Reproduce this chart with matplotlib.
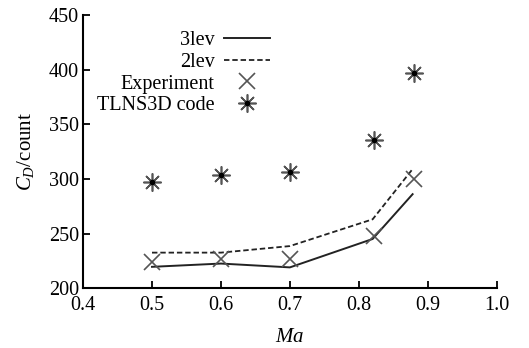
import matplotlib
matplotlib.use("Agg")
import matplotlib.pyplot as plt
from matplotlib.legend_handler import HandlerTuple

plt.rcParams['font.family'] = ['Liberation Serif', 'DejaVu Serif']
plt.rcParams['mathtext.fontset'] = 'custom'
plt.rcParams['mathtext.rm'] = 'Liberation Serif'
plt.rcParams['mathtext.it'] = 'Liberation Serif:italic'

ma_lines = [0.50, 0.60, 0.70, 0.82, 0.878]
lev3 = [219.5, 222.5, 219, 245, 286]
lev2 = [232.5, 232.5, 238.5, 263, 309]
ma_pts = [0.50, 0.60, 0.70, 0.822, 0.88]
experiment = [224, 227, 227, 247.5, 299.5]
tlns3d = [297, 304, 306, 336, 397]

fig = plt.figure(figsize=(5.29, 3.48), dpi=100)
ax = fig.add_axes([0.157, 0.172, 0.782, 0.785])

l3, = ax.plot(ma_lines, lev3, color='#222222', lw=1.4, label='3lev')
l2, = ax.plot(ma_lines, lev2, color='#222222', lw=1.3, ls=(0, (3, 1.6)), label='2lev')
ex, = ax.plot(ma_pts, experiment, ls='none', marker='x', ms=11, mew=1.2,
              color='#555555', label='Experiment')
ts, = ax.plot(ma_pts, tlns3d, ls='none', marker=(8, 2, 0), ms=13, mew=1.2,
              color='#555555')
td, = ax.plot(ma_pts, tlns3d, ls='none', marker='o', ms=3, color='black')

ax.set_xlim(0.4, 1.0)
ax.set_ylim(200, 450)
ax.set_xticks([0.4, 0.5, 0.6, 0.7, 0.8, 0.9, 1.0])
ax.set_xticklabels(['0.4', '0.5', '0.6', '0.7', '0.8', '0.9', '1.0'])
ax.set_yticks([200, 250, 300, 350, 400, 450])
for s in ['top', 'right']:
    ax.spines[s].set_visible(False)
for s in ['left', 'bottom']:
    ax.spines[s].set_linewidth(1.5)
ax.tick_params(direction='in', length=5, width=1.3, labelsize=14.5)
ax.tick_params(axis='y', pad=3)
ax.tick_params(axis='x', pad=6)

ax.set_xlabel('$Ma$', fontsize=15, labelpad=9)
ax.set_ylabel('$C_D$/count', fontsize=15, labelpad=9)

leg = ax.legend([l3, l2, ex, (ts, td)], ['3lev', '2lev', 'Experiment', 'TLNS3D code'],
                handler_map={tuple: HandlerTuple(ndivide=1)},
                loc='upper right', bbox_to_anchor=(270 / 529, 1 - 31 / 348),
                bbox_transform=fig.transFigure, frameon=False, markerfirst=False,
                fontsize=14.5, handlelength=2.3, handletextpad=0.45, labelspacing=0.13,
                borderpad=0, borderaxespad=0)
for t in leg.get_texts():
    t.set_ha('right')

fig.savefig('out.png', dpi=100)
